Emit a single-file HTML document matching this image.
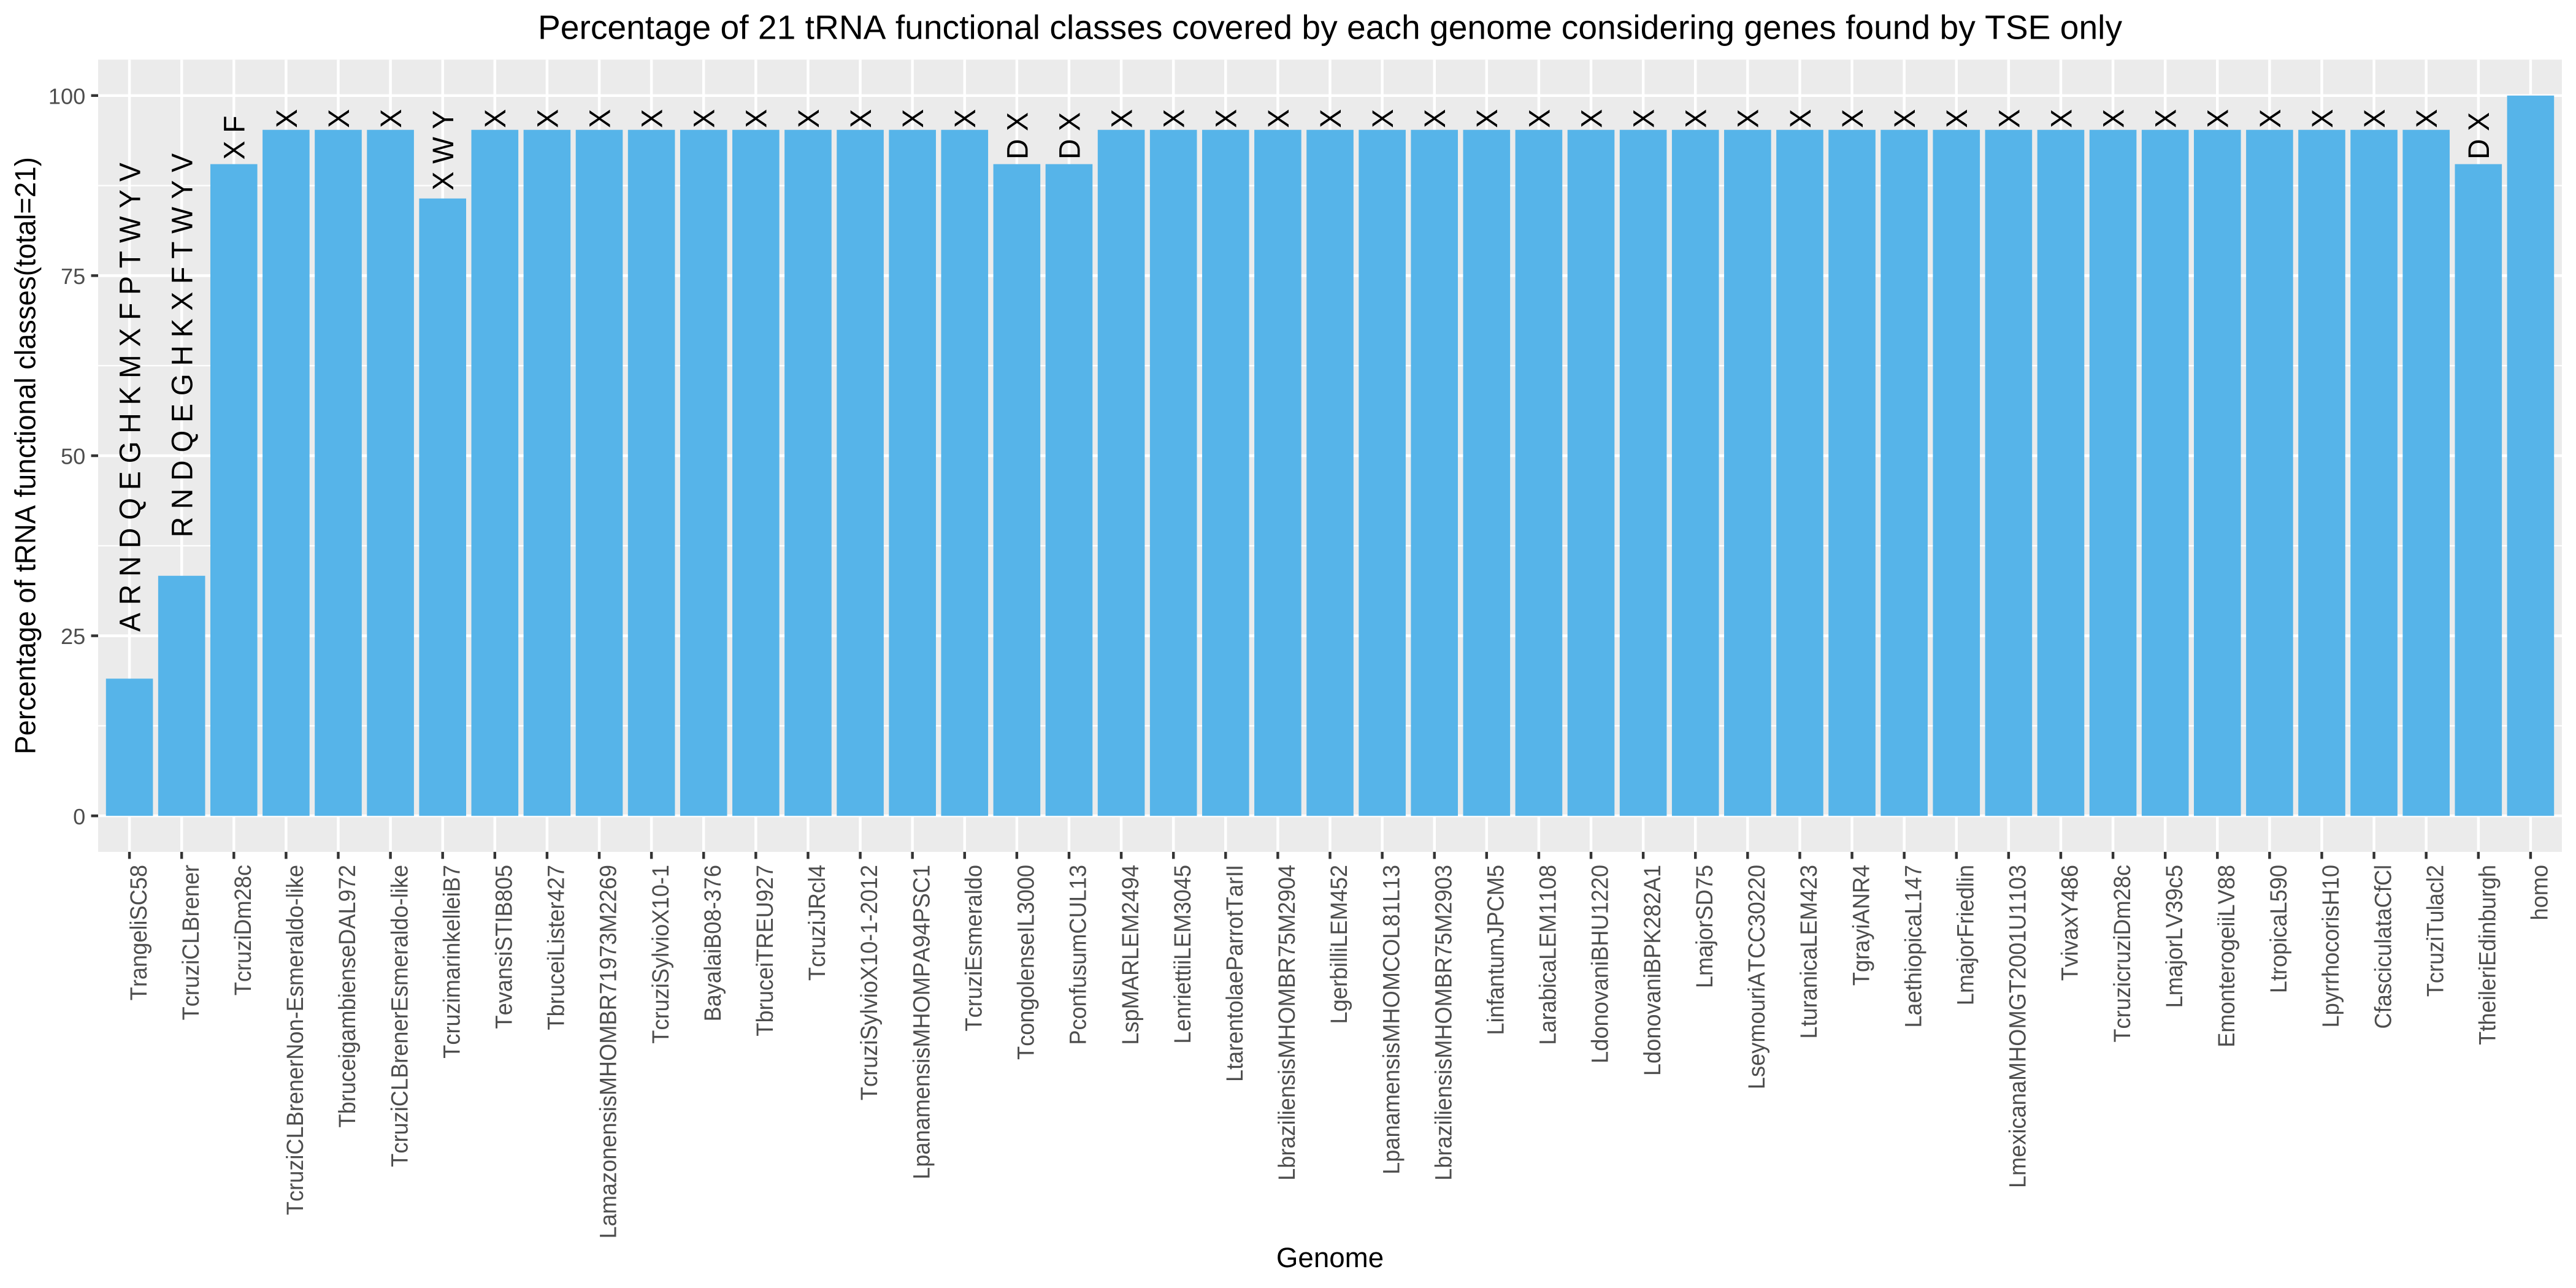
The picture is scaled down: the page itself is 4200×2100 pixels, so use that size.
<!DOCTYPE html>
<html lang="en">
<head>
<meta charset="utf-8">
<title>Percentage of 21 tRNA functional classes</title>
<style>
  html, body { margin: 0; padding: 0; background: #fff; }
  svg { display: block; font-family: "Liberation Sans", Arial, Helvetica, sans-serif; text-rendering: geometricPrecision; font-kerning: none; }
  .tick-label { fill: #4D4D4D; font-size: 36.2px; }
  .bar-label { fill: #000; font-size: 46.2px; }
  .axis-title { fill: #000; font-size: 45.7px; }
</style>
</head>
<body>
<svg id="chart" xmlns="http://www.w3.org/2000/svg" width="4200" height="2100" viewBox="0 0 4200 2100">
  <rect x="0" y="0" width="4200" height="2100" fill="#FFFFFF"/>
  <rect x="160" y="97.2" width="4017" height="1291.7" fill="#EBEBEB"/>
  <g id="grid"></g>
  <g id="bars"></g>
  <g id="labels"></g>
  <g id="y-axis"></g>
  <g id="x-axis"></g>
  <text x="2168.5" y="63.3" text-anchor="middle" font-size="55.2" fill="#000">Percentage of 21 tRNA functional classes covered by each genome considering genes found by TSE only</text>
  <text class="axis-title" x="2168.5" y="2066" text-anchor="middle">Genome</text>
  <text class="axis-title" transform="translate(57.5 743) rotate(-90) scale(1 1.04)" text-anchor="middle">Percentage of tRNA functional classes(total=21)</text>
</svg>
<script>
const categories = ["TrangeliSC58","TcruziCLBrener","TcruziDm28c","TcruziCLBrenerNon-Esmeraldo-like","TbruceigambienseDAL972","TcruziCLBrenerEsmeraldo-like","TcruzimarinkelleiB7","TevansiSTIB805","TbruceiLister427","LamazonensisMHOMBR71973M2269","TcruziSylvioX10-1","BayalaiB08-376","TbruceiTREU927","TcruziJRcl4","TcruziSylvioX10-1-2012","LpanamensisMHOMPA94PSC1","TcruziEsmeraldo","TcongolenseIL3000","PconfusumCUL13","LspMARLEM2494","LenriettiiLEM3045","LtarentolaeParrotTarII","LbraziliensisMHOMBR75M2904","LgerbilliLEM452","LpanamensisMHOMCOL81L13","LbraziliensisMHOMBR75M2903","LinfantumJPCM5","LarabicaLEM1108","LdonovaniBHU1220","LdonovaniBPK282A1","LmajorSD75","LseymouriATCC30220","LturanicaLEM423","TgrayiANR4","LaethiopicaL147","LmajorFriedlin","LmexicanaMHOMGT2001U1103","TvivaxY486","TcruzicruziDm28c","LmajorLV39c5","EmonterogeiiLV88","LtropicaL590","LpyrrhocorisH10","CfasciculataCfCl","TcruziTulacl2","TtheileriEdinburgh","homo"];
const coverage = [19.05,33.33,90.48,95.24,95.24,95.24,85.71,95.24,95.24,95.24,95.24,95.24,95.24,95.24,95.24,95.24,95.24,90.48,90.48,95.24,95.24,95.24,95.24,95.24,95.24,95.24,95.24,95.24,95.24,95.24,95.24,95.24,95.24,95.24,95.24,95.24,95.24,95.24,95.24,95.24,95.24,95.24,95.24,95.24,95.24,90.48,100];
const missingClasses = ["A R N D Q E G H K M X F P T W Y V","R N D Q E G H K X F T W Y V","X F","X","X","X","X W Y","X","X","X","X","X","X","X","X","X","X","D X","D X","X","X","X","X","X","X","X","X","X","X","X","X","X","X","X","X","X","X","X","X","X","X","X","X","X","X","D X",""];
const yTickValues = [0,25,50,75,100];
const yMinorValues = [12.5,37.5,62.5,87.5];

const SVG_NS = "http://www.w3.org/2000/svg";
const panelLeft = 160, panelRight = 4177, panelTop = 97.2, panelBottom = 1388.9;
const bandStep = (panelRight - panelLeft) / (categories.length - 1 + 1.2);
const barWidth = bandStep * 0.9;

function xScale(i) { return panelLeft + bandStep * (0.6 + i); }
function yScale(v) { return 1330.2 - 11.744 * v; }

function make(tag, parent, attrs, text) {
  const el = document.createElementNS(SVG_NS, tag);
  for (const k in attrs) el.setAttribute(k, attrs[k]);
  if (text !== undefined) el.textContent = text;
  parent.appendChild(el);
  return el;
}

const grid = document.getElementById("grid");
const bars = document.getElementById("bars");
const labels = document.getElementById("labels");
const yAxis = document.getElementById("y-axis");
const xAxis = document.getElementById("x-axis");

yMinorValues.forEach(function (v) {
  const el = make("line", grid, { x1: panelLeft, x2: panelRight, y1: yScale(v), y2: yScale(v), stroke: "#FFFFFF", "stroke-width": 2.22 });
  
  
});

yTickValues.forEach(function (v) {
  const y = yScale(v);
  const line = make("line", grid, { x1: panelLeft, x2: panelRight, y1: y, y2: y, stroke: "#FFFFFF", "stroke-width": 4.44 });
  
  
  const tick = make("line", yAxis, { x1: panelLeft - 11.46, x2: panelLeft, y1: y, y2: y, stroke: "#333333", "stroke-width": 4.44 });
  
  
  const label = make("text", yAxis, { class: "tick-label", x: 139.3, y: y + 13.6, "text-anchor": "end" }, String(v));
  
  
});

categories.forEach(function (name, i) {
  const x = xScale(i);
  const gridLine = make("line", grid, { x1: x, x2: x, y1: panelTop, y2: panelBottom, stroke: "#FFFFFF", "stroke-width": 4.44 });
  
  

  const top = yScale(coverage[i]);
  const bar = make("rect", bars, { x: x - barWidth / 2, y: top, width: barWidth, height: yScale(0) - top, fill: "#56B4E9" });
  
  

  if (missingClasses[i]) {
    const t = make("text", labels, { class: "bar-label" }, missingClasses[i]);
    
    
    const offset = 0.1 * t.getComputedTextLength();
    t.setAttribute("transform", "translate(" + (x + 17.4) + " " + (top - offset) + ") rotate(-90) scale(1 1.05)");
  }

  const tick = make("line", xAxis, { x1: x, x2: x, y1: panelBottom, y2: panelBottom + 11.46, stroke: "#333333", "stroke-width": 4.44 });
  
  

  const lab = make("text", xAxis, { class: "tick-label", "text-anchor": "end", transform: "translate(" + (x + 27.7) + " 1410) rotate(-90) scale(1 1.06)" }, name);
  
  
});
</script>
</body>
</html>
